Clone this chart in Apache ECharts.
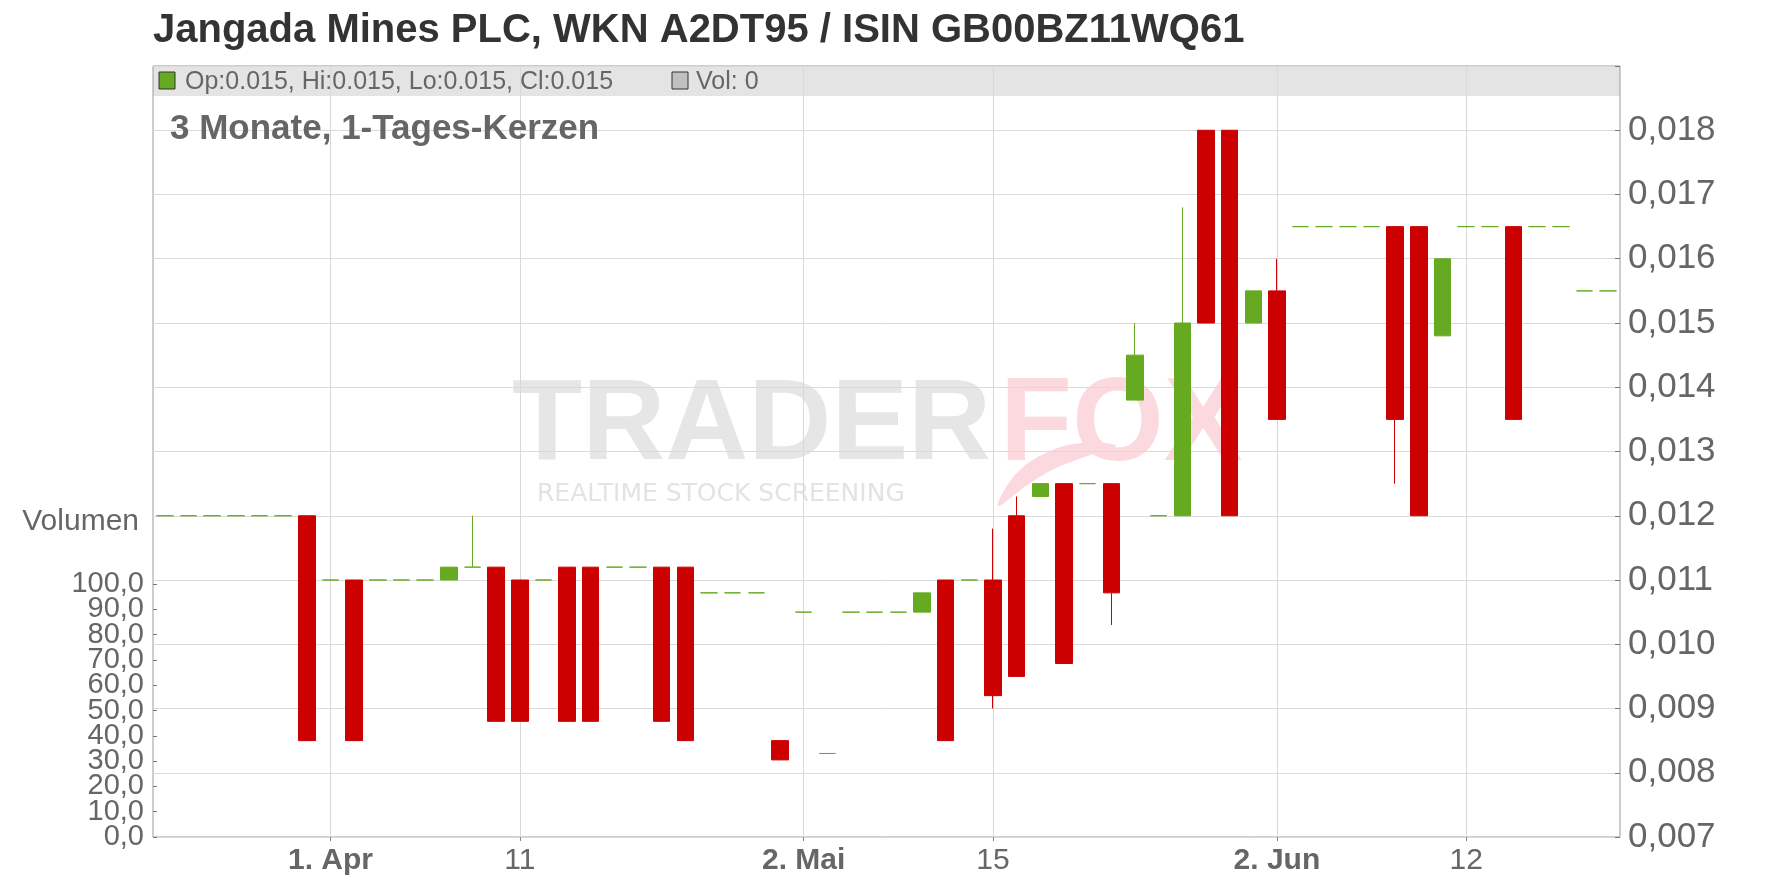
<!DOCTYPE html>
<html><head><meta charset="utf-8">
<script src="https://cdn.jsdelivr.net/npm/echarts@6/dist/echarts.min.js"></script>
<style>html,body{margin:0;padding:0;background:#fff}#c{width:1776px;height:888px}</style>
</head><body><div id="c"></div><script>
const categories = ['2025-03-21','2025-03-24','2025-03-25','2025-03-26','2025-03-27','2025-03-28','2025-03-31',
 '2025-04-01','2025-04-02','2025-04-03','2025-04-04','2025-04-07','2025-04-08','2025-04-09','2025-04-10','2025-04-11',
 '2025-04-14','2025-04-15','2025-04-16','2025-04-17','2025-04-22','2025-04-23','2025-04-24','2025-04-25','2025-04-28',
 '2025-04-29','2025-04-30','2025-05-02','2025-05-06','2025-05-07','2025-05-08','2025-05-09','2025-05-12','2025-05-13',
 '2025-05-14','2025-05-15','2025-05-16','2025-05-19','2025-05-20','2025-05-21','2025-05-22','2025-05-23','2025-05-26',
 '2025-05-27','2025-05-28','2025-05-29','2025-05-30','2025-06-02','2025-06-03','2025-06-04','2025-06-05','2025-06-06',
 '2025-06-09','2025-06-10','2025-06-11','2025-06-12','2025-06-13','2025-06-16','2025-06-17','2025-06-18','2025-06-19','2025-06-20'];
const opens  = [0.012,0.012,0.012,0.012,0.012,0.012,0.012, 0.011,0.011,0.011,0.011,0.011,0.011,0.0112,0.0112,0.011,
 0.011,0.0112,0.0112,0.0112,0.0112,0.0112,0.0112,0.0108,0.0108, 0.0108,0.0085,0.0105,0.0083,0.0105,0.0105,0.0105,0.0105,0.011,
 0.011,0.011,0.012,0.0123,0.0125,0.0125,0.0125,0.0138,0.012, 0.012,0.018,0.018,0.015,0.0155,0.0165,0.0165,0.0165,0.0165,
 0.0165,0.0165,0.0148,0.0165,0.0165,0.0165,0.0165,0.0165,0.0155,0.0155];
const closes = [0.012,0.012,0.012,0.012,0.012,0.012,0.0085, 0.011,0.0085,0.011,0.011,0.011,0.0112,0.0112,0.0088,0.0088,
 0.011,0.0088,0.0088,0.0112,0.0112,0.0088,0.0085,0.0108,0.0108, 0.0108,0.0082,0.0105,0.0083,0.0105,0.0105,0.0105,0.0108,0.0085,
 0.011,0.0092,0.0095,0.0125,0.0097,0.0125,0.0108,0.0145,0.012, 0.015,0.015,0.012,0.0155,0.0135,0.0165,0.0165,0.0165,0.0165,
 0.0135,0.012,0.016,0.0165,0.0165,0.0135,0.0165,0.0165,0.0155,0.0155];
const lows   = [0.012,0.012,0.012,0.012,0.012,0.012,0.0085, 0.011,0.0085,0.011,0.011,0.011,0.011,0.0112,0.0088,0.0088,
 0.011,0.0088,0.0088,0.0112,0.0112,0.0088,0.0085,0.0108,0.0108, 0.0108,0.0082,0.0105,0.0083,0.0105,0.0105,0.0105,0.0105,0.0085,
 0.011,0.009,0.0095,0.0123,0.0097,0.0125,0.0103,0.0138,0.012, 0.012,0.015,0.012,0.015,0.0135,0.0165,0.0165,0.0165,0.0165,
 0.0125,0.012,0.0148,0.0165,0.0165,0.0135,0.0165,0.0165,0.0155,0.0155];
const highs  = [0.012,0.012,0.012,0.012,0.012,0.012,0.012, 0.011,0.011,0.011,0.011,0.011,0.0112,0.012,0.0112,0.011,
 0.011,0.0112,0.0112,0.0112,0.0112,0.0112,0.0112,0.0108,0.0108, 0.0108,0.0085,0.0105,0.0083,0.0105,0.0105,0.0105,0.0108,0.011,
 0.011,0.0118,0.0123,0.0125,0.0125,0.0125,0.0125,0.015,0.012, 0.0168,0.018,0.018,0.0155,0.016,0.0165,0.0165,0.0165,0.0165,
 0.0165,0.0165,0.016,0.0165,0.0165,0.0165,0.0165,0.0165,0.0155,0.0155];
const volumes = [0,0,0,0,0,0,0,0,0,0,0,0,0,0,0,0,0,0,0,0,0,0,0,0,0,0,0,0,0,0,0,
 0,0,0,0,0,0,0,0,0,0,0,0,0,0,0,0,0,0,0,0,0,0,0,0,0,0,0,0,0,0,0];
const tickDates  = ['2025-04-01','2025-04-11','2025-05-02','2025-05-15','2025-06-02','2025-06-12'];
const tickLabels = ['1. Apr','11','2. Mai','15','2. Jun','12'];
const priceMin = 0.007, priceMax = 0.019, priceStep = 0.001;
const volMin = 0, volMax = 100, volStep = 10;
const titleText = 'Jangada Mines PLC, WKN A2DT95 / ISIN GB00BZ11WQ61';
const subtitleText = '3 Monate, 1-Tages-Kerzen';
const legendOHLC = 'Op:0.015, Hi:0.015, Lo:0.015, Cl:0.015';
const legendVol = 'Vol: 0';

const GREEN = '#66aa22', RED = '#cc0000', FONT = '"Liberation Sans", Arial, sans-serif';
const L = 153, R = 1620, T = 66, B = 837, VTOP = 584;
// volume scale: the odd ticks (10..90) sit on a helper axis whose grid spans exactly that sub-range
const volPx = (B - VTOP) / (volMax - volMin);
const oddTop = VTOP + volStep * volPx, oddBottom = B - volStep * volPx;

const candleData = categories.map((d, i) => {
  const v = [opens[i], closes[i], lows[i], highs[i]];
  if (opens[i] === closes[i]) return { value: v, itemStyle: { color0: GREEN, borderColor0: GREEN } };
  return v;
});
const isTick = (idx, val) => tickDates.indexOf(val) >= 0;
const volLabel = { margin: 9, fontFamily: FONT, fontSize: 29, color: '#666', showMinLabel: true, showMaxLabel: true,
  formatter: (v) => v.toFixed(1).replace('.', ',') };
const volTick = { show: true, inside: true, length: 4, lineStyle: { color: '#777' } };

const chart = echarts.init(document.getElementById('c'), null, { renderer: 'canvas' });
chart.setOption({
  animation: false,
  backgroundColor: '#fff',
  title: { text: titleText, left: 153, top: 11, padding: 0,
    textStyle: { fontFamily: FONT, fontSize: 40, fontWeight: 'bold', color: '#333' } },
  grid: [
    { left: L, right: 1776 - R, top: T, bottom: 888 - B, show: true, borderColor: '#9a9a9a', borderWidth: 1, backgroundColor: 'transparent' },
    { left: L, right: 1776 - R, top: VTOP, bottom: 888 - B },
    { left: L, right: 1776 - R, top: oddTop, bottom: 888 - oddBottom }
  ],
  xAxis: [
    { type: 'category', gridIndex: 0, data: categories, boundaryGap: true,
      axisLine: { show: false },
      axisTick: { show: true, interval: isTick, alignWithLabel: true, length: 4, inside: false, lineStyle: { color: '#888' } },
      axisLabel: { interval: isTick, margin: 9, fontFamily: FONT, fontSize: 30, color: '#666',
        formatter: (v) => { const k = tickDates.indexOf(v); if (k < 0) return ''; const t = tickLabels[k]; return t.indexOf('.') >= 0 ? '{b|' + t + '}' : '{n|' + t + '}'; },
        rich: { b: { fontFamily: FONT, fontSize: 30, fontWeight: 'bold', color: '#666' }, n: { fontFamily: FONT, fontSize: 30, color: '#666' } } },
      splitLine: { show: false } },
    { type: 'category', gridIndex: 1, data: categories, show: false },
    { type: 'category', gridIndex: 2, data: categories, show: false }
  ],
  yAxis: [
    { type: 'value', gridIndex: 0, position: 'right', min: priceMin, max: priceMax, interval: priceStep,
      axisLine: { show: false },
      axisTick: { show: true, inside: true, length: 5, lineStyle: { color: '#777' } },
      axisLabel: { margin: 8, fontFamily: FONT, fontSize: 35, color: '#666', showMinLabel: true,
        formatter: (v) => v > priceMax - priceStep / 2 ? '' : v.toFixed(3).replace('.', ',') },
      splitLine: { show: true, lineStyle: { color: '#dadada', width: 1 } } },
    { type: 'value', gridIndex: 1, position: 'left', min: volMin, max: volMax, interval: 2 * volStep,
      name: 'Volumen', nameLocation: 'end', nameGap: 62,
      nameTextStyle: { fontFamily: FONT, fontSize: 30, color: '#666', align: 'right', verticalAlign: 'middle', padding: [0, 14, 0, 0] },
      axisLine: { show: false }, axisTick: volTick, axisLabel: volLabel, splitLine: { show: false } },
    { type: 'value', gridIndex: 2, position: 'left', min: volMin + volStep, max: volMax - volStep, interval: 2 * volStep,
      axisLine: { show: false }, axisTick: volTick, axisLabel: volLabel, splitLine: { show: false } }
  ],
  graphic: [
    { type: 'rect', z: -1, shape: { x: L, y: T, width: R - L, height: 30 }, style: { fill: '#e4e4e4' } },
    { type: 'rect', z: 10, shape: { x: 159, y: 72, width: 16, height: 17 }, style: { fill: GREEN, stroke: '#333', lineWidth: 1 } },
    { type: 'text', z: 10, x: 185, y: 82, style: { text: legendOHLC, font: '25px ' + FONT, fill: '#666', textVerticalAlign: 'middle' } },
    { type: 'rect', z: 10, shape: { x: 672, y: 72, width: 16, height: 17 }, style: { fill: '#c0c0c0', stroke: '#333', lineWidth: 1 } },
    { type: 'text', z: 10, x: 696, y: 82, style: { text: legendVol, font: '25px ' + FONT, fill: '#666', textVerticalAlign: 'middle' } },
    { type: 'text', z: 10, x: 170, y: 129, style: { text: subtitleText, font: 'bold 35px ' + FONT, fill: '#666', textVerticalAlign: 'middle' } },
    { type: 'text', z: 0, x: 512, y: 427, style: { text: 'TRADER', font: 'bold 115px ' + FONT, fill: '#e6e6e6', textVerticalAlign: 'middle' } },
    { type: 'text', z: 0, x: 1000, y: 427, style: { text: 'FOX', font: 'bold 118px ' + FONT, fill: '#fcd9de', textVerticalAlign: 'middle' } },
    { type: 'polygon', z: 0, shape: { smooth: 0.4, points: [[998,506],[1016,474],[1048,452],[1082,443],[1116,446],[1082,458],[1052,470],[1026,486]] }, style: { fill: '#fcd9de' } },
    { type: 'text', z: 0, x: 537, y: 494, style: { text: 'REALTIME STOCK SCREENING', font: '25px "DejaVu Sans", sans-serif', fill: '#e3e3e3', textVerticalAlign: 'middle' } }
  ],
  series: [
    { type: 'candlestick', name: 'Kurs', xAxisIndex: 0, yAxisIndex: 0, z: 3, barWidth: 17,
      data: candleData,
      itemStyle: { color: GREEN, color0: RED, borderColor: GREEN, borderColor0: RED, borderWidth: 1 },
      markLine: { silent: true, symbol: 'none', z: 1, label: { show: false },
        lineStyle: { color: '#d8d8d8', width: 1, type: 'solid' },
        data: tickDates.map(d => ({ xAxis: d })) } },
    { type: 'bar', name: 'Volumen', xAxisIndex: 1, yAxisIndex: 1, data: volumes, itemStyle: { color: '#c0c0c0' } }
  ]
});
</script></body></html>
